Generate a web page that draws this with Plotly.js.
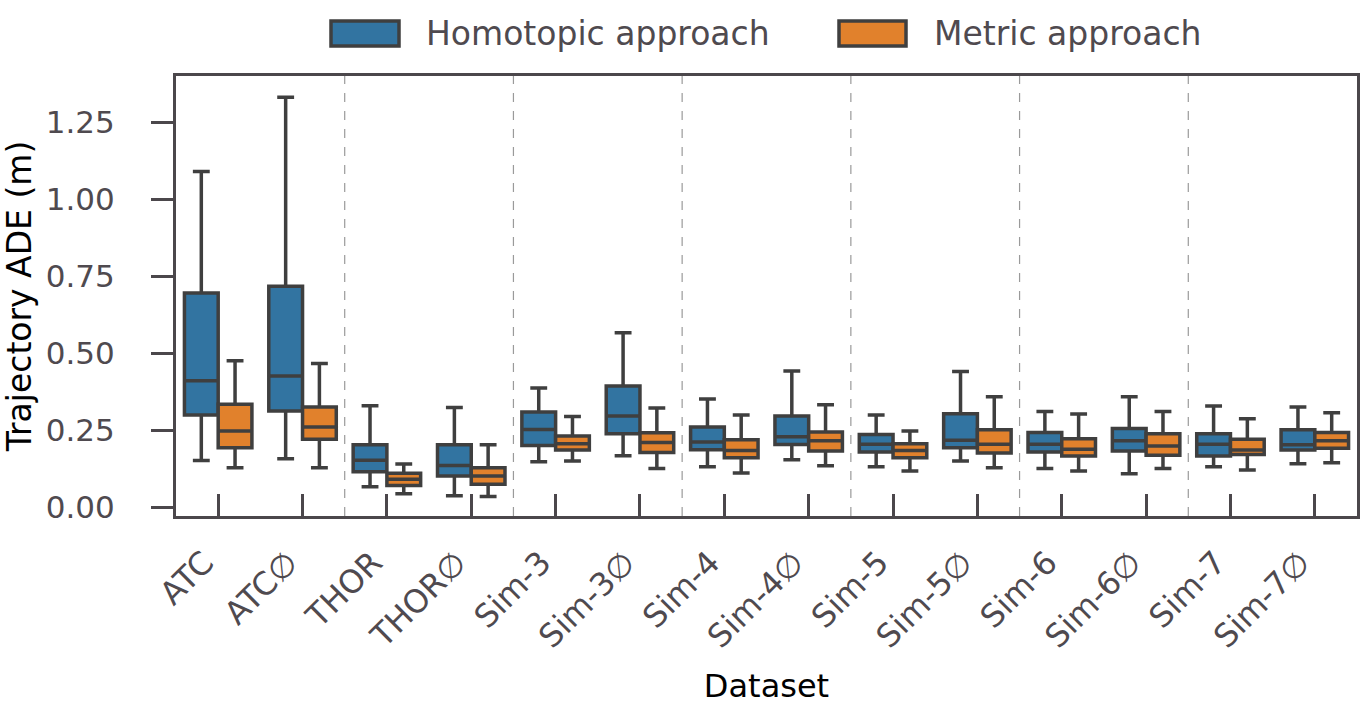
<!DOCTYPE html>
<html>
<head>
<meta charset="utf-8">
<script src="https://cdn.plot.ly/plotly-3.0.1.min.js"></script>
<style>
html,body{margin:0;padding:0;background:#fff;}
#chart{width:1364px;height:705px;}
</style>
</head>
<body>
<div id="chart"></div>
<script>
// Categories (datasets)
const categories = ["ATC","ATC\u2205","THOR","THOR\u2205","Sim-3","Sim-3\u2205","Sim-4","Sim-4\u2205","Sim-5","Sim-5\u2205","Sim-6","Sim-6\u2205","Sim-7","Sim-7\u2205"];

// Homotopic approach box statistics
const homoLower  = [0.151,0.157,0.066,0.037,0.147,0.167,0.131,0.154,0.131,0.150,0.125,0.108,0.131,0.141];
const homoQ1     = [0.299,0.312,0.115,0.101,0.200,0.238,0.186,0.203,0.179,0.193,0.179,0.182,0.166,0.185];
const homoMedian = [0.410,0.426,0.152,0.135,0.252,0.296,0.211,0.228,0.204,0.217,0.204,0.215,0.204,0.202];
const homoQ3     = [0.695,0.717,0.202,0.202,0.309,0.393,0.260,0.296,0.236,0.303,0.242,0.255,0.238,0.251];
const homoUpper  = [1.090,1.331,0.329,0.323,0.387,0.566,0.351,0.442,0.299,0.440,0.310,0.358,0.328,0.325];

// Metric approach box statistics
const metLower  = [0.128,0.128,0.043,0.034,0.150,0.125,0.111,0.134,0.117,0.128,0.117,0.125,0.120,0.144];
const metQ1     = [0.193,0.220,0.070,0.074,0.185,0.177,0.160,0.182,0.160,0.176,0.166,0.168,0.171,0.191];
const metMedian = [0.247,0.260,0.090,0.101,0.206,0.210,0.184,0.215,0.184,0.204,0.188,0.198,0.185,0.215];
const metQ3     = [0.334,0.325,0.110,0.128,0.231,0.241,0.219,0.244,0.206,0.251,0.222,0.238,0.220,0.242];
const metUpper  = [0.475,0.466,0.140,0.202,0.294,0.322,0.299,0.332,0.247,0.358,0.302,0.310,0.287,0.306];

const seriesNames = ["Homotopic approach","Metric approach"];
const seriesColors = ["#3274a1","#e1812c"];
const yTicks = [0,0.25,0.5,0.75,1.0,1.25];

const edge = "#3f3f3f";
const spine = "#4b474b";
const tickText = "#4f4a4f";
const FONT = "DejaVu Sans";

const traces = [
  {type:"box", name:seriesNames[0], x:categories, q1:homoQ1, median:homoMedian, q3:homoQ3,
   lowerfence:homoLower, upperfence:homoUpper, boxpoints:false, fillcolor:seriesColors[0],
   line:{color:edge,width:3.5}, whiskerwidth:0.5, showlegend:false, hoverinfo:"skip"},
  {type:"box", name:seriesNames[1], x:categories, q1:metQ1, median:metMedian, q3:metQ3,
   lowerfence:metLower, upperfence:metUpper, boxpoints:false, fillcolor:seriesColors[1],
   line:{color:edge,width:3.5}, whiskerwidth:0.5, showlegend:false, hoverinfo:"skip"}
];

const shapes = [];
for (let i = 1; i < categories.length - 1; i += 2) {
  shapes.push({type:"line", xref:"x", yref:"paper", x0:i+0.5, x1:i+0.5, y0:0, y1:1,
    line:{color:"#9a9a9a", width:1.2, dash:"dash"}, layer:"below"});
}
// legend patches
const legX = [[331,399],[839,906]];
legX.forEach((p,k)=>{
  shapes.push({type:"rect", xref:"paper", yref:"paper",
    x0:(p[0]-176)/1181, x1:(p[1]-176)/1181, y0:(516-46)/440, y1:(516-21)/440,
    fillcolor:seriesColors[k], line:{color:edge,width:3.5}});
});

const annotations = [
  {xref:"paper", yref:"paper", x:(424-176)/1181, y:(516-33)/440, xanchor:"left", yanchor:"middle",
   text:seriesNames[0], showarrow:false, font:{family:FONT, size:33, color:tickText}},
  {xref:"paper", yref:"paper", x:(932-176)/1181, y:(516-33)/440, xanchor:"left", yanchor:"middle",
   text:seriesNames[1], showarrow:false, font:{family:FONT, size:33, color:tickText}}
];

const layout = {
  width:1364, height:705,
  margin:{l:176, r:7, t:76, b:189},
  paper_bgcolor:"#fff", plot_bgcolor:"#fff",
  font:{family:FONT, size:31, color:tickText},
  boxmode:"group", boxgap:0.2, boxgroupgap:0,
  showlegend:false,
  xaxis:{type:"category", range:[-0.5,13.5], showline:true, mirror:true, linecolor:spine, linewidth:3,
    ticks:"inside", ticklen:22, tickwidth:3, tickcolor:spine, tickangle:-45, showgrid:false, zeroline:false,
    automargin:false, ticklabelstandoff:12, ticklabelshift:-14,
    tickfont:{family:FONT, size:32, color:tickText},
    title:{text:"Dataset", font:{family:FONT, size:32, color:"#000"}, standoff:22}},
  yaxis:{range:[-0.029,1.40], showline:true, mirror:true, linecolor:spine, linewidth:3,
    ticks:"outside", ticklen:22, tickwidth:3, tickcolor:spine, tickvals:yTicks, tickformat:".2f",
    showgrid:false, zeroline:false, automargin:false, ticklabelstandoff:30,
    tickfont:{family:FONT, size:31, color:tickText},
    title:{text:"Trajectory ADE (m)", font:{family:FONT, size:33, color:"#000"}, standoff:8}},
  shapes:shapes,
  annotations:annotations
};

Plotly.newPlot("chart", traces, layout, {displayModeBar:false, staticPlot:true});
</script>
</body>
</html>
